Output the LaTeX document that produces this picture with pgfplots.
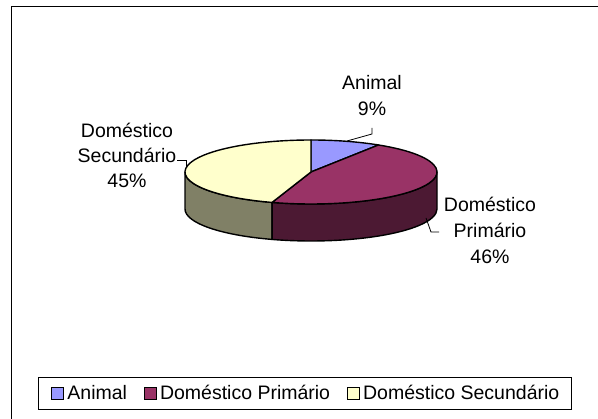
\documentclass[border=0pt]{standalone}
\usepackage{fontspec}
\setmainfont{Liberation Sans}
\usepackage{pgfplots}
\usepackage{pgfplotstable}
\pgfplotsset{compat=1.18}

\definecolor{animal}{HTML}{9999FF}
\definecolor{primario}{HTML}{993366}
\definecolor{secundario}{HTML}{FFFFCC}
\definecolor{primarioside}{HTML}{4C1933}
\definecolor{secundarioside}{HTML}{808066}

% shares in percent: Animal, Domestico Primario, Domestico Secundario
\pgfplotstableread{
value
9
46
45
}\piedata

% pie geometry in picture pixels (1pt = 1px): centre 311,247; radii 126 x 32; depth 37
\newcommand\topslice[3]{%
  \filldraw[fill=#3, draw=black, line width=1.4pt, line join=round]
    (axis cs:311,247) -- ++(#1:126pt and 32pt)
    arc[start angle=#1, end angle=#2, x radius=126pt, y radius=32pt] -- cycle;}
\newcommand\sideslice[3]{%
  \filldraw[fill=#3, draw=black, line width=1.4pt, line join=round]
    (axis cs:311,247) ++(#1:126pt and 32pt)
    arc[start angle=#1, end angle=#2, x radius=126pt, y radius=32pt]
    -- ++(0pt,-37pt)
    arc[start angle=#2, end angle=#1, x radius=126pt, y radius=32pt] -- cycle;}

\newcommand\lbl{\fontsize{19.5}{23}\selectfont}

\begin{document}
\begin{tikzpicture}
\pgfplotstablegetelem{0}{value}\of\piedata \let\vA\pgfplotsretval
\pgfplotstablegetelem{1}{value}\of\piedata \let\vB\pgfplotsretval
\pgfplotstablegetelem{2}{value}\of\piedata \let\vC\pgfplotsretval
\pgfmathsetmacro\aA{90-3.6*\vA}
\pgfmathsetmacro\aB{\aA-3.6*\vB}
\pgfmathsetmacro\aC{\aB-3.6*\vC}
\begin{axis}[
    x=1pt, y=1pt,
    xmin=0, xmax=598, ymin=0, ymax=419,
    at={(0,0)}, anchor=south west,
    hide axis, clip=false,
    legend columns=3,
    legend cell align=left,
    legend image code/.code={%
      \draw[#1, line width=1.5pt] (0pt,-7pt) rectangle (12pt,5pt);},
    legend style={
      at={(0.06355,0.06205)}, anchor=west,
      draw=black, line width=0.8pt, fill=white,
      inner xsep=12.5pt, inner ysep=8.5pt,
      font=\lbl,
      nodes={inner sep=0pt, text height=14.5pt, text depth=0pt},
      /tikz/every odd column/.append style={column sep=3pt},
      /tikz/every even column/.append style={column sep=16.5pt}},
  ]
  \addlegendimage{fill=animal, draw=black}
  \addlegendentry{Animal}
  \addlegendimage{fill=primario, draw=black}
  \addlegendentry{Doméstico Primário}
  \addlegendimage{fill=secundario, draw=black}
  \addlegendentry{Doméstico Secundário}

  % outer chart frame (only top and left edges lie inside the picture)
  \draw[black, line width=1pt] (axis cs:11,-20) -- (axis cs:11,412) -- (axis cs:620,412);

  % visible sides, then top faces
  \sideslice{-180}{\aB}{secundarioside}
  \sideslice{\aB}{0}{primarioside}
  \topslice{90}{\aA}{animal}
  \topslice{\aA}{\aB}{primario}
  \topslice{\aB}{\aC}{secundario}

  % leader lines
  \draw[black, line width=0.8pt] (axis cs:347,278) -- (axis cs:372,285) -- (axis cs:372,291);
  \draw[black, line width=0.8pt] (axis cs:177,259) -- (axis cs:186,259) -- (axis cs:186,251);
  \draw[black, line width=0.8pt] (axis cs:426,201) -- (axis cs:431,187) -- (axis cs:439,187);

  % data labels
  \node[font=\lbl, anchor=base] at (axis cs:372,329) {Animal};
  \node[font=\lbl, anchor=base] at (axis cs:372,303) {\vA\%};
  \node[font=\lbl, anchor=base] at (axis cs:127,281) {Doméstico};
  \node[font=\lbl, anchor=base] at (axis cs:127,256) {Secundário};
  \node[font=\lbl, anchor=base] at (axis cs:127,231) {\vC\%};
  \node[font=\lbl, anchor=base] at (axis cs:490,207) {Doméstico};
  \node[font=\lbl, anchor=base] at (axis cs:490,181) {Primário};
  \node[font=\lbl, anchor=base] at (axis cs:490,155) {\vB\%};
\end{axis}
\pgfresetboundingbox
\path[use as bounding box] (0,0) rectangle (598pt,419pt);
\end{tikzpicture}
\end{document}
